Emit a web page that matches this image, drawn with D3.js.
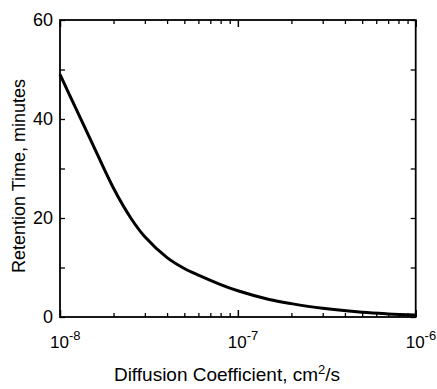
<!DOCTYPE html>
<html><head><meta charset="utf-8">
<script src="https://cdn.jsdelivr.net/npm/d3@7"></script>
<style>
body{margin:0;background:#fff;}
svg{display:block;}
text{font-family:"Liberation Sans",Arial,Helvetica,sans-serif;fill:#000;}
</style></head>
<body><svg id="c" width="437" height="389"></svg>
<script>
const diffusion = [1e-8,1.2e-8,1.5e-8,2e-8,2.5e-8,3e-8,4e-8,5e-8,6e-8,8e-8,1e-7,1.5e-7,2e-7,3e-7,5e-7,7e-7,1e-6];
const retention = [49,42.9,35.5,26.0,20.0,16.2,12.0,9.8,8.45,6.55,5.3,3.55,2.7,1.75,0.95,0.63,0.4];
const xMajor = [1e-8,1e-7,1e-6];
const xExp = ["-8","-7","-6"];
const yTicks = [0,10,20,30,40,50,60];
const yLabels = [0,20,40,60];

const svg = d3.select("#c");
const L=60,R=415.7,T=20,B=317;
const x = d3.scaleLog().domain([1e-8,1e-6]).range([L,R]);
const y = d3.scaleLinear().domain([0,60]).range([B,T]);

const minor = x.ticks().filter(v=>!xMajor.some(m=>Math.abs(m-v)/m<1e-6));
function tickGroup(axis, tx, ty, vals, size, w){
  svg.append("g").attr("transform",`translate(${tx},${ty})`)
    .call(axis.tickValues(vals).tickSize(size).tickFormat(""))
    .call(g=>{g.select(".domain").remove();g.selectAll("line").attr("stroke-width",w);});
}
tickGroup(d3.axisBottom(x),0,B,minor,-4,1.3);
tickGroup(d3.axisBottom(x),0,B,xMajor,-7,1.5);
tickGroup(d3.axisTop(x),0,T,minor,-4,1.3);
tickGroup(d3.axisTop(x),0,T,xMajor,-7,1.5);
tickGroup(d3.axisLeft(y),L,0,yTicks,-5,1.3);
tickGroup(d3.axisRight(y),R,0,yTicks,-5,1.3);

// frame
svg.append("rect").attr("x",L).attr("y",T).attr("width",R-L).attr("height",B-T)
  .attr("fill","none").attr("stroke","#000").attr("stroke-width",1.8);

// y labels
svg.append("g").selectAll("text").data(yLabels).join("text")
  .attr("x",L-7).attr("y",d=>y(d)).attr("dy","0.36em")
  .attr("text-anchor","end").attr("font-size",18).text(d=>d);

// x labels
const xl = svg.append("g").selectAll("text").data(xMajor).join("text")
  .attr("x",d=>x(d)-10).attr("y",348).attr("font-size",17);
xl.append("tspan").text("10");
xl.append("tspan").attr("dy",-8).attr("font-size",13).text((d,i)=>xExp[i]);

// curve
const pts = diffusion.map((d,i)=>[x(d),y(retention[i])]);
svg.append("path").datum(pts)
  .attr("d",d3.line().curve(d3.curveCatmullRom.alpha(0.5)))
  .attr("fill","none").attr("stroke","#000").attr("stroke-width",3)
  .attr("stroke-linejoin","round");

// titles
const xt = svg.append("text").attr("x",227).attr("y",381).attr("text-anchor","middle").attr("font-size",19);
xt.append("tspan").text("Diffusion Coefficient, cm");
xt.append("tspan").attr("dy",-7).attr("font-size",13).text("2");
xt.append("tspan").attr("dy",7).text("/s");

svg.append("text").attr("transform","translate(25,176) rotate(-90)")
  .attr("text-anchor","middle").attr("font-size",18).text("Retention Time, minutes");
</script></body></html>
